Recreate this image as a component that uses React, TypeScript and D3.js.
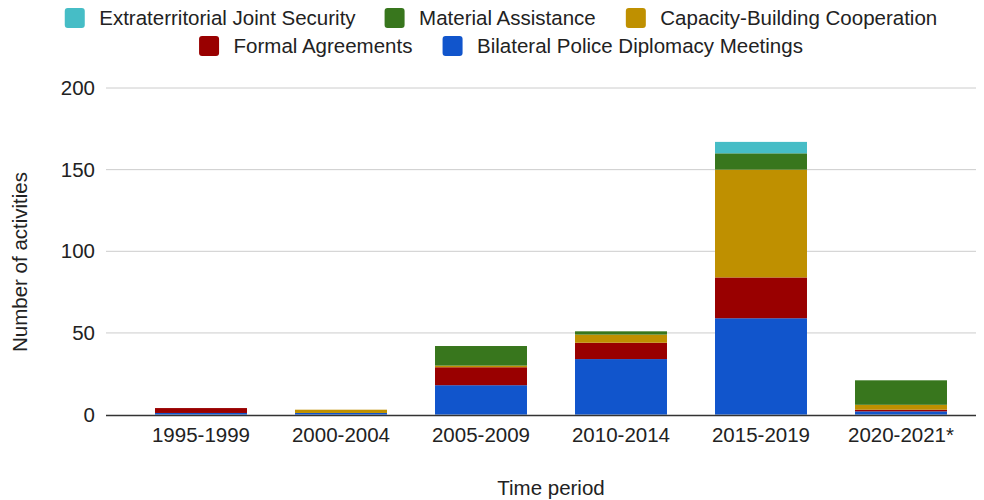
import React, { useMemo } from "react";
import * as d3 from "d3";

// Time periods on the x axis
const periods = ["1995-1999", "2000-2004", "2005-2009", "2010-2014", "2015-2019", "2020-2021*"];

// Activity counts per period, one array per category
const bilateralMeetings = [1, 1, 18, 34, 59, 2];
const formalAgreements = [3, 0, 11, 10, 25, 1];
const capacityBuilding = [0, 2, 1, 5, 66, 3];
const materialAssistance = [0, 0, 12, 2, 10, 15];
const jointSecurity = [0, 0, 0, 0, 7, 0];

const yTicks = [0, 50, 100, 150, 200];

// Stacking order, bottom to top
const seriesNames = [
  "Bilateral Police Diplomacy Meetings",
  "Formal Agreements",
  "Capacity-Building Cooperation",
  "Material Assistance",
  "Extraterritorial Joint Security",
];
const seriesValues = [bilateralMeetings, formalAgreements, capacityBuilding, materialAssistance, jointSecurity];
const seriesColors = ["#1155cc", "#990000", "#bf9000", "#38761d", "#46bdc6"];

// Legend rows, as they read left to right
const legendRows = [
  ["Extraterritorial Joint Security", "Material Assistance", "Capacity-Building Cooperation"],
  ["Formal Agreements", "Bilateral Police Diplomacy Meetings"],
];

const W = 984;
const H = 500;
const FONT = "'Liberation Sans', Arial, Helvetica, sans-serif";
const FS = 20.5;
const TEXT = "#222222";

export default function App() {
  const x = d3.scaleBand<string>().domain(periods).range([131, 971]).paddingInner(0.343).paddingOuter(0.1715);
  const y = d3.scaleLinear().domain([0, 200]).range([414.6, 88]);

  const rows = periods.map((p, i) => {
    const r: Record<string, number | string> = { period: p };
    seriesNames.forEach((s, k) => (r[s] = seriesValues[k][i]));
    return r;
  });
  const stacked = d3.stack<Record<string, number | string>>().keys(seriesNames)(rows as any);

  const colorOf = (name: string) => seriesColors[seriesNames.indexOf(name)];

  const measure = useMemo(() => {
    const ctx = document.createElement("canvas").getContext("2d")!;
    ctx.font = `${FS}px ${FONT}`;
    return (t: string) => ctx.measureText(t).width;
  }, []);

  const swatch = 20;
  const swatchGap = 14.5;
  const itemGap = 29;
  const legendCenter = 501;
  const rowBaselines = [25, 53];

  const legendItems: { name: string; x: number; baseline: number }[] = [];
  legendRows.forEach((row, ri) => {
    const widths = row.map((n) => swatch + swatchGap + measure(n));
    const total = d3.sum(widths) + itemGap * (row.length - 1);
    let cx = legendCenter - total / 2;
    row.forEach((n, k) => {
      legendItems.push({ name: n, x: cx, baseline: rowBaselines[ri] });
      cx += widths[k] + itemGap;
    });
  });

  return (
    <svg
      width={W}
      height={H}
      style={{ position: "absolute", left: 0, top: 0, background: "#fff" }}
      fontFamily={FONT}
    >
      {/* gridlines */}
      {yTicks
        .filter((t) => t > 0)
        .map((t) => (
          <line key={t} x1={106} x2={976} y1={y(t)} y2={y(t)} stroke="#cccccc" strokeWidth={1} />
        ))}

      {/* stacked bars */}
      {stacked.map((layer) =>
        layer.map((d, i) => {
          const h = y(d[0]) - y(d[1]);
          if (h <= 0) return null;
          return (
            <rect
              key={`${layer.key}-${i}`}
              x={x(periods[i])}
              y={y(d[1])}
              width={x.bandwidth()}
              height={h}
              fill={colorOf(layer.key)}
            />
          );
        })
      )}

      {/* baseline */}
      <line x1={106} x2={976} y1={y(0) + 0.9} y2={y(0) + 0.9} stroke="#333333" strokeWidth={1.5} />

      {/* y tick labels */}
      {yTicks.map((t) => (
        <text key={t} x={95} y={y(t)} dy="0.35em" textAnchor="end" fontSize={FS} fill={TEXT}>
          {t}
        </text>
      ))}

      {/* x tick labels */}
      {periods.map((p) => (
        <text key={p} x={(x(p) ?? 0) + x.bandwidth() / 2} y={442} textAnchor="middle" fontSize={FS} fill={TEXT}>
          {p}
        </text>
      ))}

      {/* axis titles */}
      <text x={551} y={495} textAnchor="middle" fontSize={FS} fill={TEXT}>
        Time period
      </text>
      <text transform="translate(27,262) rotate(-90)" textAnchor="middle" fontSize={FS} fill={TEXT}>
        Number of activities
      </text>

      {/* legend */}
      {legendItems.map((it) => (
        <g key={it.name}>
          <rect
            x={it.x}
            y={it.baseline - 17}
            width={swatch}
            height={swatch}
            rx={3}
            fill={colorOf(it.name)}
          />
          <text x={it.x + swatch + swatchGap} y={it.baseline} fontSize={FS} fill={TEXT}>
            {it.name}
          </text>
        </g>
      ))}
    </svg>
  );
}
